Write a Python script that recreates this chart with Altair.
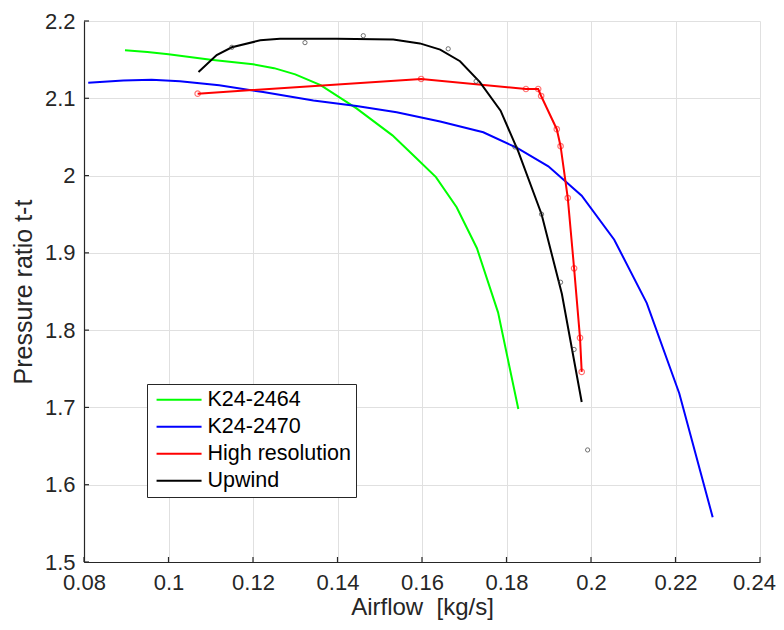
import altair as alt
import pandas as pd

# ---- data ----
green_x = [0.0897, 0.095, 0.100, 0.110, 0.120, 0.125, 0.130, 0.136, 0.1445, 0.153, 0.158, 0.1633, 0.1682, 0.173, 0.178, 0.1828]
green_y = [2.162, 2.160, 2.157, 2.150, 2.144, 2.139, 2.131, 2.117, 2.087, 2.052, 2.026, 1.998, 1.959, 1.906, 1.823, 1.698]

blue_x = [0.081, 0.0893, 0.096, 0.1027, 0.112, 0.1224, 0.1343, 0.1445, 0.154, 0.1643, 0.1745, 0.1824, 0.1899, 0.1978, 0.2055, 0.2132, 0.2209, 0.2288]
blue_y = [2.120, 2.123, 2.124, 2.122, 2.117, 2.108, 2.097, 2.090, 2.082, 2.070, 2.056, 2.036, 2.012, 1.974, 1.917, 1.835, 1.718, 1.558]

red_x = [0.1069, 0.1598, 0.1846, 0.1875, 0.1882, 0.1919, 0.1928, 0.1945, 0.1960, 0.1974, 0.1978]
red_y = [2.106, 2.125, 2.112, 2.112, 2.103, 2.060, 2.038, 1.971, 1.880, 1.790, 1.746]

black_x = [0.1071, 0.1114, 0.115, 0.1217, 0.1264, 0.1398, 0.1532, 0.1595, 0.1643, 0.169, 0.1737, 0.1786, 0.1828, 0.1883, 0.1931, 0.1978]
black_y = [2.134, 2.156, 2.166, 2.175, 2.177, 2.177, 2.176, 2.171, 2.163, 2.148, 2.121, 2.084, 2.031, 1.950, 1.847, 1.707]

scatter_x = [0.115, 0.1323, 0.1461, 0.1662, 0.1728, 0.182, 0.1883, 0.1928, 0.196, 0.1992]
scatter_y = [2.166, 2.172, 2.181, 2.164, 2.122, 2.037, 1.950, 1.862, 1.775, 1.645]

series_names = ["K24-2464", "K24-2470", "High resolution", "Upwind"]
series_colors = ["#00ff00", "#0000ff", "#ff0000", "#000000"]

x_ticks = [0.08, 0.1, 0.12, 0.14, 0.16, 0.18, 0.2, 0.22, 0.24]
y_ticks = [1.5, 1.6, 1.7, 1.8, 1.9, 2.0, 2.1, 2.2]

# ---- tables ----
rows = []
for name, xs, ys in zip(series_names, [green_x, blue_x, red_x, black_x], [green_y, blue_y, red_y, black_y]):
    for i, (a, b) in enumerate(zip(xs, ys)):
        rows.append({"series": name, "x": a, "y": b, "i": i})
lines_df = pd.DataFrame(rows)
red_df = pd.DataFrame({"x": red_x, "y": red_y})
scat_df = pd.DataFrame({"x": scatter_x, "y": scatter_y})
xt_df = pd.DataFrame({"v": x_ticks})
yt_df = pd.DataFrame({"v": y_ticks})

W, H = 676, 541
FONT = "Liberation Sans"
AX = "#262626"

xscale = alt.Scale(domain=[0.08, 0.24], nice=False, zero=False)
yscale = alt.Scale(domain=[1.5, 2.2], nice=False, zero=False)

xaxis = alt.Axis(values=x_ticks, format="~g", title="Airflow\u00a0\u00a0[kg/s]", grid=True,
                 tickSize=0, labelPadding=10, titlePadding=2, labelFlush=False, labelOverlap=False,
                 titleFontSize=24,
                 labelOffset={"condition": {"test": "datum.value > 0.235", "value": -6}, "value": 0})
yaxis = alt.Axis(values=y_ticks, format="~g", title="Pressure ratio t-t", grid=True,
                 tickSize=0, labelPadding=9, titlePadding=8, labelFlush=False, labelOverlap=False)

lines = alt.Chart(lines_df).mark_line(strokeWidth=2).encode(
    x=alt.X("x:Q", scale=xscale, axis=xaxis),
    y=alt.Y("y:Q", scale=yscale, axis=yaxis),
    color=alt.Color("series:N", scale=alt.Scale(domain=series_names, range=series_colors),
                    sort=series_names, legend=alt.Legend(title=None)),
    order="i:Q",
)

red_pts = alt.Chart(red_df).mark_point(shape="circle", filled=False, size=30, color="#ff0000",
                                       opacity=0.55, strokeWidth=1.2).encode(
    x=alt.X("x:Q", scale=xscale), y=alt.Y("y:Q", scale=yscale))

scat = alt.Chart(scat_df).mark_point(shape="circle", filled=False, size=18, color="#333333",
                                     strokeWidth=1).encode(
    x=alt.X("x:Q", scale=xscale), y=alt.Y("y:Q", scale=yscale))

xticks_m = alt.Chart(xt_df).mark_rule(color=AX, strokeWidth=1.2).encode(
    x=alt.X("v:Q", scale=xscale), y=alt.value(H), y2=alt.value(H - 5))
yticks_m = alt.Chart(yt_df).mark_rule(color=AX, strokeWidth=1.2).encode(
    y=alt.Y("v:Q", scale=yscale), x=alt.value(0), x2=alt.value(5))

chart = alt.layer(lines, red_pts, scat, xticks_m, yticks_m).properties(
    width=W, height=H,
    padding={"left": 76, "top": 13, "right": 16, "bottom": 58},
    autosize=alt.AutoSizeParams(type="none"),
).configure_view(stroke=None).configure_axis(
    domainColor=AX, domainWidth=1.2, gridColor="#e0e0e0", gridWidth=1,
    labelFont=FONT, labelFontSize=22, labelColor=AX,
    titleFont=FONT, titleFontSize=25, titleColor=AX, titleFontWeight="normal",
).configure_legend(
    orient="none", legendX=63, legendY=363, strokeColor=AX, fillColor="white",
    padding=5, symbolType="M-1.1,0L6.9,0", symbolSize=126.5, symbolStrokeWidth=2,
    labelFont=FONT, labelFontSize=21.5, labelColor="#000000", rowPadding=4, labelOffset=34,
    cornerRadius=0,
)

chart.save("out.html", embed_options={"renderer": "svg", "actions": False})
